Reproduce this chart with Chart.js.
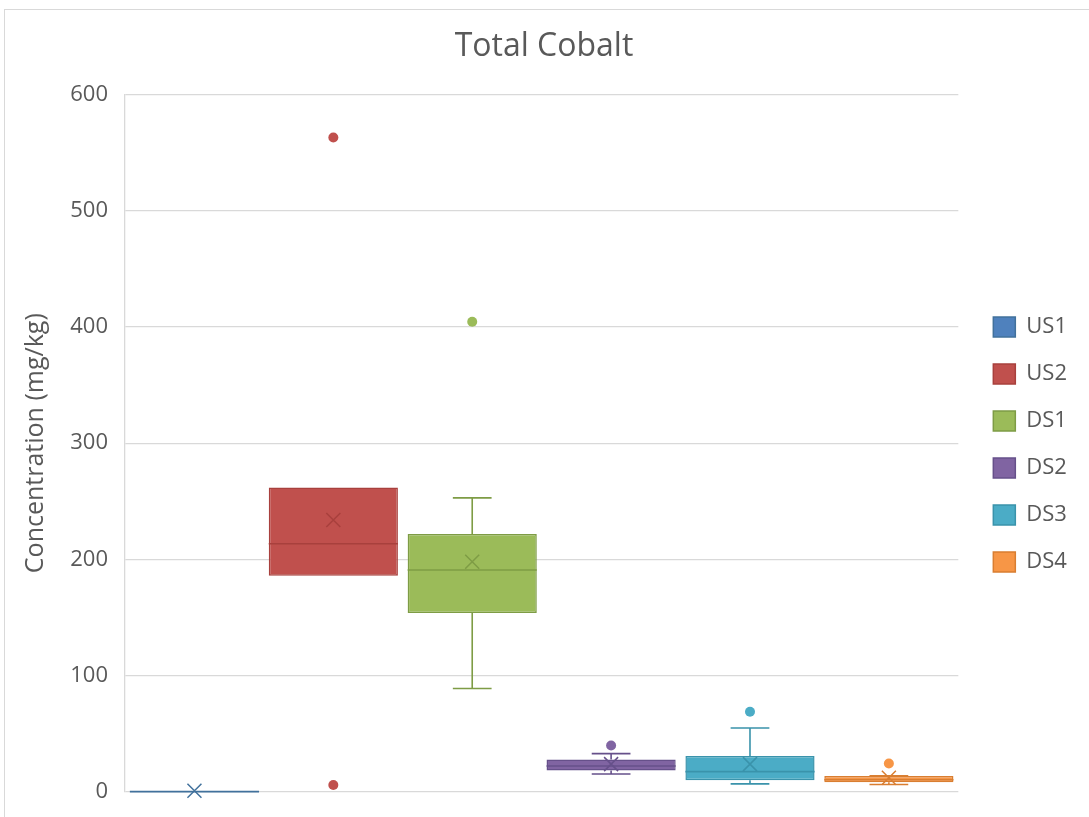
<!DOCTYPE html>
<html>
<head>
<meta charset="utf-8">
<script src="https://cdn.jsdelivr.net/npm/chart.js@4"></script>
<style>
  html, body { margin: 0; padding: 0; background: #fff; overflow: hidden; }
  #frame { position: absolute; left: 4px; top: 9px; width: 1200px; height: 900px;
           border-left: 1px solid #d9d9d9; border-top: 1px solid #d9d9d9; }
  #wrap { position: absolute; left: 0; top: 0; width: 1089px; height: 817px; }
</style>
</head>
<body>
<div id="frame"></div>
<div id="wrap"><canvas id="boxChart"></canvas></div>
<script>
// Total Cobalt box & whisker (Excel style)
const seriesNames = ['US1', 'US2', 'DS1', 'DS2', 'DS3', 'DS4'];
const q1Values     = [0,    186,   154,  18.5, 10.2, 8.3];
const q3Values     = [0.5,  262,   222,  28,   31,   13.8];
const medianValues = [0.3,  213.5, 191,  22.4, 17.5, 10.6];
const meanValues   = [1,    234,   198,  24,   24,   12.3];
const whiskerLow   = [0,    186,   89,   15.5, 7,    6.5];
const whiskerHigh  = [0.5,  262,   253,  33,   55,   14];
const outliers     = [[],   [563, 6], [404.5], [40], [69], [24.5]];
const yTicks = [0, 100, 200, 300, 400, 500, 600];

const fillColors   = ['#4F81BD', '#C0504D', '#9BBB59', '#8064A2', '#4BACC6', '#F79646'];
const borderColors = ['#41719C', '#A8403D', '#7E9C45', '#66508A', '#3A93AB', '#D97E31'];

const FONT = "'Segoe UI', 'Open Sans', sans-serif";
const TEXT = '#595959';

// whiskers, medians, means and outliers drawn on the bar geometry
const boxExtras = {
  id: 'boxExtras',
  afterDatasetsDraw(chart) {
    const { ctx, scales: { y } } = chart;
    chart.data.datasets.forEach((ds, i) => {
      const bar = chart.getDatasetMeta(i).data[0];
      if (!bar) return;
      const cx = bar.x, w = bar.width;
      const cap = w * 0.3;
      ctx.save();
      ctx.strokeStyle = borderColors[i];
      ctx.lineWidth = 1.6;

      // whiskers
      const yQ1 = y.getPixelForValue(q1Values[i]);
      const yQ3 = y.getPixelForValue(q3Values[i]);
      const yLo = y.getPixelForValue(whiskerLow[i]);
      const yHi = y.getPixelForValue(whiskerHigh[i]);
      ctx.beginPath();
      if (whiskerHigh[i] > q3Values[i]) {
        ctx.moveTo(cx, yQ3); ctx.lineTo(cx, yHi);
        ctx.moveTo(cx - cap / 2, yHi); ctx.lineTo(cx + cap / 2, yHi);
      }
      if (whiskerLow[i] < q1Values[i]) {
        ctx.moveTo(cx, yQ1); ctx.lineTo(cx, yLo);
        ctx.moveTo(cx - cap / 2, yLo); ctx.lineTo(cx + cap / 2, yLo);
      }
      ctx.stroke();

      // median
      const yMed = y.getPixelForValue(medianValues[i]);
      ctx.beginPath();
      ctx.moveTo(cx - w / 2, yMed); ctx.lineTo(cx + w / 2, yMed);
      ctx.stroke();

      // mean marker (X)
      const yMean = y.getPixelForValue(meanValues[i]);
      const m = 7;
      ctx.lineWidth = 1.5;
      ctx.beginPath();
      ctx.moveTo(cx - m, yMean - m); ctx.lineTo(cx + m, yMean + m);
      ctx.moveTo(cx + m, yMean - m); ctx.lineTo(cx - m, yMean + m);
      ctx.stroke();

      // outliers
      ctx.fillStyle = fillColors[i];
      outliers[i].forEach(v => {
        ctx.beginPath();
        ctx.arc(cx, y.getPixelForValue(v), 5, 0, Math.PI * 2);
        ctx.fill();
      });
      ctx.restore();
    });
  }
};

// nudge the legend block down/right, like Excel places it
const legendShift = {
  id: 'legendShift',
  afterLayout(chart) {
    const lg = chart.legend;
    if (!lg) return;
    lg.top += 26; lg.bottom += 26;
    lg.left += 10; lg.right += 10;
  }
};

const ctx = document.getElementById('boxChart');

new Chart(ctx, {
  type: 'bar',
  data: {
    labels: [''],
    datasets: seriesNames.map((name, i) => ({
      label: name,
      data: [[q1Values[i], q3Values[i]]],
      backgroundColor: fillColors[i],
      borderColor: borderColors[i],
      borderWidth: 1.5,
      borderSkipped: false,
      barPercentage: 0.93,
      categoryPercentage: 1.0,
    }))
  },
  options: {
    responsive: true,
    maintainAspectRatio: false,
    animation: false,
    layout: { padding: { top: 20, left: 21, right: 22, bottom: 0 } },
    plugins: {
      title: {
        display: true,
        text: 'Total Cobalt',
        color: TEXT,
        font: { family: FONT, size: 32, weight: 'normal' },
        padding: { top: 8, bottom: 28 }
      },
      legend: {
        position: 'right',
        labels: {
          color: TEXT,
          font: { family: FONT, size: 22 },
          boxWidth: 22,
          boxHeight: 20,
          padding: 25
        }
      },
      tooltip: { enabled: false }
    },
    scales: {
      x: { display: false },
      y: {
        min: 0,
        max: 600,
        afterBuildTicks: (scale) => { scale.ticks = yTicks.map(v => ({ value: v })); },
        afterFit: (scale) => {
          scale.width = 104;
          scale.paddingBottom = 25;
          scale.paddingTop = 14;
        },
        grid: { color: '#d9d9d9', lineWidth: 1.3, drawTicks: false },
        border: { color: '#d9d9d9', width: 1.3 },
        ticks: {
          color: TEXT,
          font: { family: FONT, size: 22 },
          padding: 17
        },
        title: {
          display: true,
          text: 'Concentration (mg/kg)',
          color: TEXT,
          font: { family: FONT, size: 25 },
          padding: 0
        }
      }
    }
  },
  plugins: [boxExtras, legendShift]
});
</script>
</body>
</html>
